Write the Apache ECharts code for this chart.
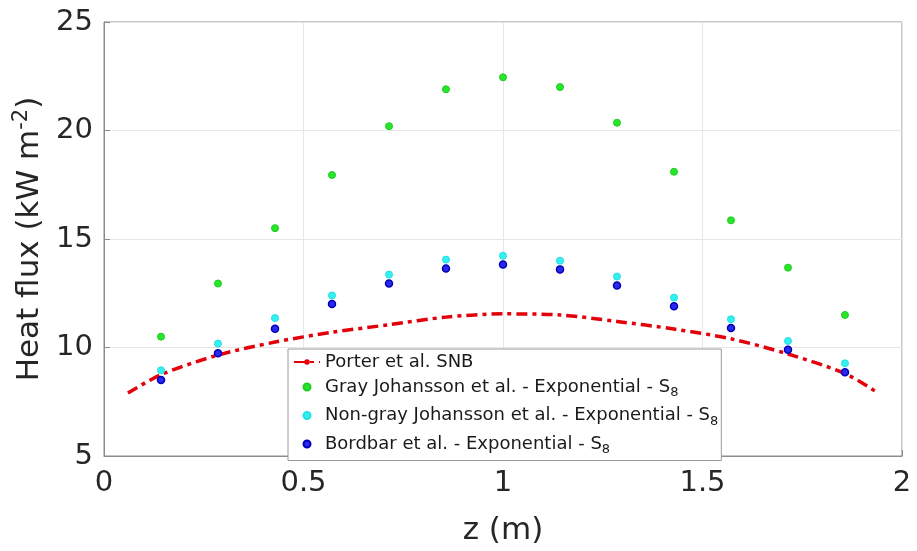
<!DOCTYPE html>
<html><head><meta charset="utf-8">
<script src="https://cdn.jsdelivr.net/npm/echarts@6/dist/echarts.min.js"></script>
<style>html,body{margin:0;padding:0;background:#fff}#c{width:917px;height:551px}</style>
</head><body><div id="c"></div>
<script>
const zPoints = [0.1429, 0.2857, 0.4286, 0.5714, 0.7143, 0.8571, 1.0, 1.1429, 1.2857, 1.4286, 1.5714, 1.7143, 1.8571];
const grayJohansson = [10.5, 12.95, 15.5, 17.95, 20.2, 21.9, 22.45, 22.0, 20.36, 18.1, 15.86, 13.68, 11.5];
const nonGrayJohansson = [8.95, 10.18, 11.36, 12.4, 13.36, 14.05, 14.23, 14.0, 13.27, 12.3, 11.3, 10.3, 9.27];
const bordbar = [8.5, 9.73, 10.86, 12.0, 12.95, 13.64, 13.82, 13.6, 12.86, 11.9, 10.9, 9.9, 8.86];
const porterZ = [0.06, 0.1429, 0.2857, 0.4286, 0.5714, 0.7143, 0.8571, 1.0, 1.1429, 1.2857, 1.4286, 1.5714, 1.7143, 1.8571, 1.94];
const porterSNB = [7.9, 8.75, 9.65, 10.25, 10.7, 11.05, 11.4, 11.55, 11.5, 11.2, 10.85, 10.4, 9.7, 8.8, 7.9];
const seriesNames = ['Porter et al. SNB', 'Gray Johansson et al. - Exponential - S8', 'Non-gray Johansson et al. - Exponential - S8', 'Bordbar et al. - Exponential - S8'];

const zip = (xs, ys) => xs.map((x, i) => [x, ys[i]]);
const FONT = 'DejaVu Sans';
const chart = echarts.init(document.getElementById('c'), null, {renderer: 'canvas'});
chart.setOption({
  animation: false,
  backgroundColor: '#fff',
  grid: {left: 104, right: 15, top: 22, bottom: 89, show: true, borderColor: '#8c8c8c', borderWidth: 1},
  xAxis: {
    type: 'value', min: 0, max: 2, interval: 0.5,
    name: 'z (m)', nameLocation: 'middle', nameGap: 59,
    nameTextStyle: {fontFamily: FONT, fontSize: 31, color: '#262626'},
    axisLine: {show: true, lineStyle: {color: '#8c8c8c'}},
    axisTick: {show: true, inside: true, length: 6, lineStyle: {color: '#8c8c8c'}},
    axisLabel: {fontFamily: FONT, fontSize: 29, color: '#262626', margin: 13,
      formatter: v => String(v)},
    splitLine: {show: true, lineStyle: {color: '#e6e6e6'}}
  },
  yAxis: {
    type: 'value', min: 5, max: 25, interval: 5,
    name: '{t|Heat flux (kW m}{s|-2}{t|)}', nameLocation: 'middle', nameGap: 56, nameRotate: 90,
    nameTextStyle: {rich: {
      t: {fontFamily: FONT, fontSize: 31, color: '#262626'},
      s: {fontFamily: FONT, fontSize: 21, color: '#262626', padding: [0, 0, 16, 0]}
    }},
    axisLine: {show: true, lineStyle: {color: '#8c8c8c'}},
    axisTick: {show: true, inside: true, length: 6, lineStyle: {color: '#8c8c8c'}},
    axisLabel: {fontFamily: FONT, fontSize: 29, color: '#262626', margin: 11},
    splitLine: {show: true, lineStyle: {color: '#e6e6e6'}}
  },
  legend: {
    orient: 'vertical', left: 288, top: 349,
    padding: [4, 3, 4, 5],
    backgroundColor: '#fff', borderColor: '#9a9a9a', borderWidth: 1,
    itemWidth: 26, itemHeight: 7, itemGap: 7,
    data: seriesNames,
    formatter: name => {
      if (name.endsWith('S8')) return '{n|' + name.slice(0, -1) + '}{b|8}';
      return '{n|' + name + '}';
    },
    textStyle: {rich: {
      n: {fontFamily: FONT, fontSize: 18, color: '#1a1a1a'},
      b: {fontFamily: FONT, fontSize: 13, color: '#1a1a1a', padding: [12, 0, 0, 0]}
    }}
  },
  series: [
    {name: seriesNames[0], type: 'line', data: zip(porterZ, porterSNB), smooth: 0.3,
      showSymbol: false, symbol: 'none', z: 2,
      lineStyle: {color: '#e3000b', width: 3.5, type: [11, 5, 4, 5]},
      itemStyle: {color: '#e3000b'}},
    {name: seriesNames[1], type: 'scatter', data: zip(zPoints, grayJohansson), symbolSize: 7, z: 3,
      itemStyle: {color: '#27e62a', borderColor: '#1fcc22', borderWidth: 1, opacity: 1}},
    {name: seriesNames[2], type: 'scatter', data: zip(zPoints, nonGrayJohansson), symbolSize: 7, z: 3,
      itemStyle: {color: '#36f0f0', borderColor: '#20e0e8', borderWidth: 1, opacity: 1}},
    {name: seriesNames[3], type: 'scatter', data: zip(zPoints, bordbar), symbolSize: 7, z: 3,
      itemStyle: {color: '#2a2aee', borderColor: '#0000b8', borderWidth: 1.5, opacity: 1}}
  ]
});
</script></body></html>
